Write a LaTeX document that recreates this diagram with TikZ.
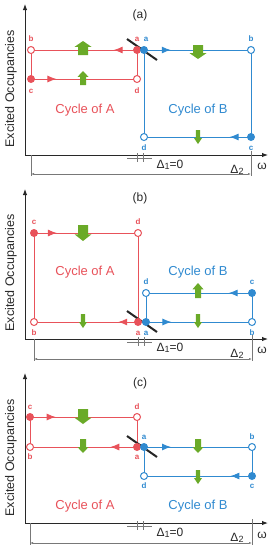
\documentclass[tikz,border=0pt]{standalone}
\usepackage{fontspec}
\setmainfont{Liberation Sans}
\usetikzlibrary{arrows.meta,decorations.markings}
\definecolor{redc}{RGB}{232,82,90}
\definecolor{bluec}{RGB}{48,138,208}
\definecolor{greenc}{RGB}{106,170,40}
\definecolor{axc}{RGB}{40,40,40}
\definecolor{dimc}{RGB}{120,120,120}
% green block arrow: x, ytail, ytip, body half width, head half width
\newcommand\garrow[5]{\fill[greenc] ({#1-#4},#2) -- ({#1-#4},{#3+(#2-#3)*0.42}) -- ({#1-#5},{#3+(#2-#3)*0.42}) -- (#1,#3) -- ({#1+#5},{#3+(#2-#3)*0.42}) -- ({#1+#4},{#3+(#2-#3)*0.42}) -- ({#1+#4},#2) -- cycle;}
\newcommand\bigA[3]{\garrow{#1}{#2}{#3}{5}{8.5}}
\newcommand\medA[3]{\garrow{#1}{#2}{#3}{3}{5.5}}
\newcommand\smlA[3]{\garrow{#1}{#2}{#3}{2.2}{4}}
\newcommand\dOne{Δ\raisebox{-1pt}{\fontsize{9}{9}\selectfont 1}=0}
\newcommand\dTwo{Δ\raisebox{-1.5pt}{\fontsize{9}{9}\selectfont 2}}
\begin{document}
\begin{tikzpicture}[x=1pt,y=-1pt,
  rline/.style={redc,line width=0.9pt},
  bline/.style={bluec,line width=0.9pt},
  marr/.style={postaction={decorate},decoration={markings,mark=at position #1 with {\arrow{Latex[length=9pt,width=7pt]}}}},
  fdot/.style={circle,inner sep=0pt,minimum size=8pt,fill=#1},
  odot/.style={circle,inner sep=0pt,minimum size=7pt,draw=#1,line width=1pt,fill=white},
  ptl/.style={font=\fontsize{8}{9}\selectfont\bfseries,text=#1,inner sep=0pt},
  cyc/.style={font=\fontsize{13}{15}\selectfont,text=#1,inner sep=0pt},
  ttl/.style={font=\fontsize{12}{14}\selectfont,text=axc,inner sep=0pt},
  ylab/.style={font=\fontsize{12.5}{14}\selectfont,text=axc,rotate=90,inner sep=0pt},
  dlab/.style={font=\fontsize{12}{14}\selectfont,text=axc,inner sep=0pt},
  axis/.style={axc,line width=1pt,-{Latex[length=6pt,width=4.5pt]}},
  dim/.style={dimc,line width=0.5pt},
  dimarr/.style={dimc,line width=0.5pt,{Latex[length=3pt,width=2pt]}-{Latex[length=3pt,width=2pt]}},
  diag/.style={line width=2pt,black!85}
]
\useasboundingbox (0,0) rectangle (273,550);

%================ Panel (a) ================
\coordinate (aO) at (25,155);
\coordinate (aY) at (25,4);
\coordinate (aX) at (268,155);
\draw[axis] (aO) -- (aY);
\draw[axis] (aO) -- (aX);
\node[ttl] (aT) at (140,15) {(a)};
\node[ylab] (aYL) at (11,89) {Excited Occupancies};
\coordinate (aAa) at (137,50);
\coordinate (aAb) at (31,50);
\coordinate (aAc) at (31,79);
\coordinate (aAd) at (137,79);
\coordinate (aBa) at (144,50);
\coordinate (aBb) at (251,50);
\coordinate (aBc) at (251,137);
\coordinate (aBd) at (144,137);
\draw[rline,marr=0.22] (aAa) -- (aAb);
\draw[rline] (aAb) -- (aAc);
\draw[rline,marr=0.24] (aAc) -- (aAd);
\draw[rline] (aAd) -- (aAa);
\draw[bline,marr=0.25] (aBa) -- (aBb);
\draw[bline] (aBb) -- (aBc);
\draw[bline,marr=0.2] (aBc) -- (aBd);
\draw[bline] (aBd) -- (aBa);
\bigA{83}{55}{41}
\medA{83}{85}{71}
\bigA{198}{45}{59}
\smlA{198}{130}{144}
\coordinate (aD1) at (127,39);
\coordinate (aD2) at (157,60);
\draw[diag] (aD1) -- (aD2);
\node[fdot=redc] (aAa-p) at (aAa) {};
\node[odot=redc] (aAb-p) at (aAb) {};
\node[fdot=redc] (aAc-p) at (aAc) {};
\node[odot=redc] (aAd-p) at (aAd) {};
\node[fdot=bluec] (aBa-p) at (aBa) {};
\node[odot=bluec] (aBb-p) at (aBb) {};
\node[fdot=bluec] (aBc-p) at (aBc) {};
\node[odot=bluec] (aBd-p) at (aBd) {};
\node[ptl=redc] (aAa-l) at (137,39) {a};
\node[ptl=redc] (aAb-l) at (31,39) {b};
\node[ptl=redc] (aAc-l) at (31,91) {c};
\node[ptl=redc] (aAd-l) at (137,91) {d};
\node[ptl=bluec] (aBa-l) at (146,39) {a};
\node[ptl=bluec] (aBb-l) at (251,39) {b};
\node[ptl=bluec] (aBc-l) at (251,148) {c};
\node[ptl=bluec] (aBd-l) at (144,148) {d};
\node[cyc=redc] (aCA) at (85,110) {Cycle of A};
\node[cyc=bluec] (aCB) at (198,110) {Cycle of B};
% dimensions
\coordinate (aT1) at (127,158); \coordinate (aT2) at (152,158);
\draw[dim] (aT1) -- (aT2);
\coordinate (aK1) at (137.5,153); \coordinate (aK2) at (137.5,162);
\coordinate (aK3) at (143.5,153); \coordinate (aK4) at (143.5,162);
\draw[dim] (aK1) -- (aK2);
\draw[dim] (aK3) -- (aK4);
\node[dlab] (aD1l) at (170,165) {\dOne};
\coordinate (aL1) at (31,155); \coordinate (aL2) at (31,176);
\coordinate (aR1) at (251,151); \coordinate (aR2) at (251,176);
\draw[dim] (aL1) -- (aL2);
\draw[dim] (aR1) -- (aR2);
\coordinate (aH1) at (31,174); \coordinate (aH2) at (251,174);
\draw[dimarr] (aH1) -- (aH2);
\node[dlab] (aD2l) at (237,170) {\dTwo};
\node[dlab] (aW) at (262,166) {ω};

%================ Panel (b) ================
\coordinate (bO) at (25,339);
\coordinate (bY) at (25,189);
\coordinate (bX) at (268,339);
\draw[axis] (bO) -- (bY);
\draw[axis] (bO) -- (bX);
\node[ttl] (bT) at (140,198) {(b)};
\node[ylab] (bYL) at (11,273) {Excited Occupancies};
\coordinate (bAc) at (34,233);
\coordinate (bAd) at (138,233);
\coordinate (bAb) at (34,322);
\coordinate (bAa) at (138,322);
\coordinate (bBd) at (146,293);
\coordinate (bBc) at (252,293);
\coordinate (bBa) at (146,322);
\coordinate (bBb) at (252,322);
\draw[rline,marr=0.22] (bAc) -- (bAd);
\draw[rline] (bAd) -- (bAa);
\draw[rline,marr=0.19] (bAa) -- (bAb);
\draw[rline] (bAb) -- (bAc);
\draw[bline,marr=0.22] (bBc) -- (bBd);
\draw[bline] (bBd) -- (bBa);
\draw[bline,marr=0.24] (bBa) -- (bBb);
\draw[bline] (bBb) -- (bBc);
\bigA{83}{225}{241}
\smlA{83}{314}{328}
\medA{198}{298}{283}
\smlA{198}{314}{328}
\coordinate (bD1) at (127,311);
\coordinate (bD2) at (157,332);
\draw[diag] (bD1) -- (bD2);
\node[fdot=redc] (bAc-p) at (bAc) {};
\node[odot=redc] (bAd-p) at (bAd) {};
\node[odot=redc] (bAb-p) at (bAb) {};
\node[fdot=redc] (bAa-p) at (bAa) {};
\node[odot=bluec] (bBd-p) at (bBd) {};
\node[fdot=bluec] (bBc-p) at (bBc) {};
\node[fdot=bluec] (bBa-p) at (bBa) {};
\node[odot=bluec] (bBb-p) at (bBb) {};
\node[ptl=redc] (bAc-l) at (34,222) {c};
\node[ptl=redc] (bAd-l) at (138,222) {d};
\node[ptl=redc] (bAb-l) at (34,333) {b};
\node[ptl=redc] (bAa-l) at (138,333) {a};
\node[ptl=bluec] (bBd-l) at (146,282) {d};
\node[ptl=bluec] (bBc-l) at (252,282) {c};
\node[ptl=bluec] (bBa-l) at (146,333) {a};
\node[ptl=bluec] (bBb-l) at (252,333) {b};
\node[cyc=redc] (bCA) at (85,272) {Cycle of A};
\node[cyc=bluec] (bCB) at (198,272) {Cycle of B};
\coordinate (bT1) at (127,342); \coordinate (bT2) at (152,342);
\draw[dim] (bT1) -- (bT2);
\coordinate (bK1) at (138.5,337); \coordinate (bK2) at (138.5,346);
\coordinate (bK3) at (144.5,337); \coordinate (bK4) at (144.5,346);
\draw[dim] (bK1) -- (bK2);
\draw[dim] (bK3) -- (bK4);
\node[dlab] (bD1l) at (170,348) {\dOne};
\coordinate (bL1) at (34,339); \coordinate (bL2) at (34,361);
\coordinate (bR1) at (252,335); \coordinate (bR2) at (252,361);
\draw[dim] (bL1) -- (bL2);
\draw[dim] (bR1) -- (bR2);
\coordinate (bH1) at (34,359); \coordinate (bH2) at (252,359);
\draw[dimarr] (bH1) -- (bH2);
\node[dlab] (bD2l) at (237,354) {\dTwo};
\node[dlab] (bW) at (262,350) {ω};

%================ Panel (c) ================
\coordinate (cO) at (25,523);
\coordinate (cY) at (25,373);
\coordinate (cX) at (268,523);
\draw[axis] (cO) -- (cY);
\draw[axis] (cO) -- (cX);
\node[ttl] (cT) at (140,383) {(c)};
\node[ylab] (cYL) at (11,458) {Excited Occupancies};
\coordinate (cAc) at (30,417);
\coordinate (cAd) at (137,417);
\coordinate (cAb) at (30,447);
\coordinate (cAa) at (137,447);
\coordinate (cBa) at (144,447);
\coordinate (cBb) at (252,447);
\coordinate (cBd) at (144,476);
\coordinate (cBc) at (252,476);
\draw[rline,marr=0.24] (cAc) -- (cAd);
\draw[rline] (cAd) -- (cAa);
\draw[rline,marr=0.25] (cAa) -- (cAb);
\draw[rline] (cAb) -- (cAc);
\draw[bline,marr=0.25] (cBa) -- (cBb);
\draw[bline] (cBb) -- (cBc);
\draw[bline,marr=0.2] (cBc) -- (cBd);
\draw[bline] (cBd) -- (cBa);
\bigA{83}{409}{424}
\medA{83}{439}{453}
\medA{198}{439}{453}
\smlA{198}{470}{484}
\coordinate (cD1) at (127,436);
\coordinate (cD2) at (157,457);
\draw[diag] (cD1) -- (cD2);
\node[fdot=redc] (cAc-p) at (cAc) {};
\node[odot=redc] (cAd-p) at (cAd) {};
\node[odot=redc] (cAb-p) at (cAb) {};
\node[fdot=redc] (cAa-p) at (cAa) {};
\node[fdot=bluec] (cBa-p) at (cBa) {};
\node[odot=bluec] (cBb-p) at (cBb) {};
\node[odot=bluec] (cBd-p) at (cBd) {};
\node[fdot=bluec] (cBc-p) at (cBc) {};
\node[ptl=redc] (cAc-l) at (30,407) {c};
\node[ptl=redc] (cAd-l) at (137,407) {d};
\node[ptl=redc] (cAb-l) at (30,457) {b};
\node[ptl=redc] (cAa-l) at (137,457) {a};
\node[ptl=bluec] (cBa-l) at (144,437) {a};
\node[ptl=bluec] (cBb-l) at (252,437) {b};
\node[ptl=bluec] (cBd-l) at (144,486) {d};
\node[ptl=bluec] (cBc-l) at (252,486) {c};
\node[cyc=redc] (cCA) at (85,506) {Cycle of A};
\node[cyc=bluec] (cCB) at (198,506) {Cycle of B};
\coordinate (cT1) at (127,526); \coordinate (cT2) at (152,526);
\draw[dim] (cT1) -- (cT2);
\coordinate (cK1) at (137.5,521); \coordinate (cK2) at (137.5,530);
\coordinate (cK3) at (143.5,521); \coordinate (cK4) at (143.5,530);
\draw[dim] (cK1) -- (cK2);
\draw[dim] (cK3) -- (cK4);
\node[dlab] (cD1l) at (170,533) {\dOne};
\coordinate (cL1) at (30,523); \coordinate (cL2) at (30,545);
\coordinate (cR1) at (252,519); \coordinate (cR2) at (252,545);
\draw[dim] (cL1) -- (cL2);
\draw[dim] (cR1) -- (cR2);
\coordinate (cH1) at (30,543); \coordinate (cH2) at (252,543);
\draw[dimarr] (cH1) -- (cH2);
\node[dlab] (cD2l) at (237,538) {\dTwo};
\node[dlab] (cW) at (262,535) {ω};
\end{tikzpicture}
\end{document}
